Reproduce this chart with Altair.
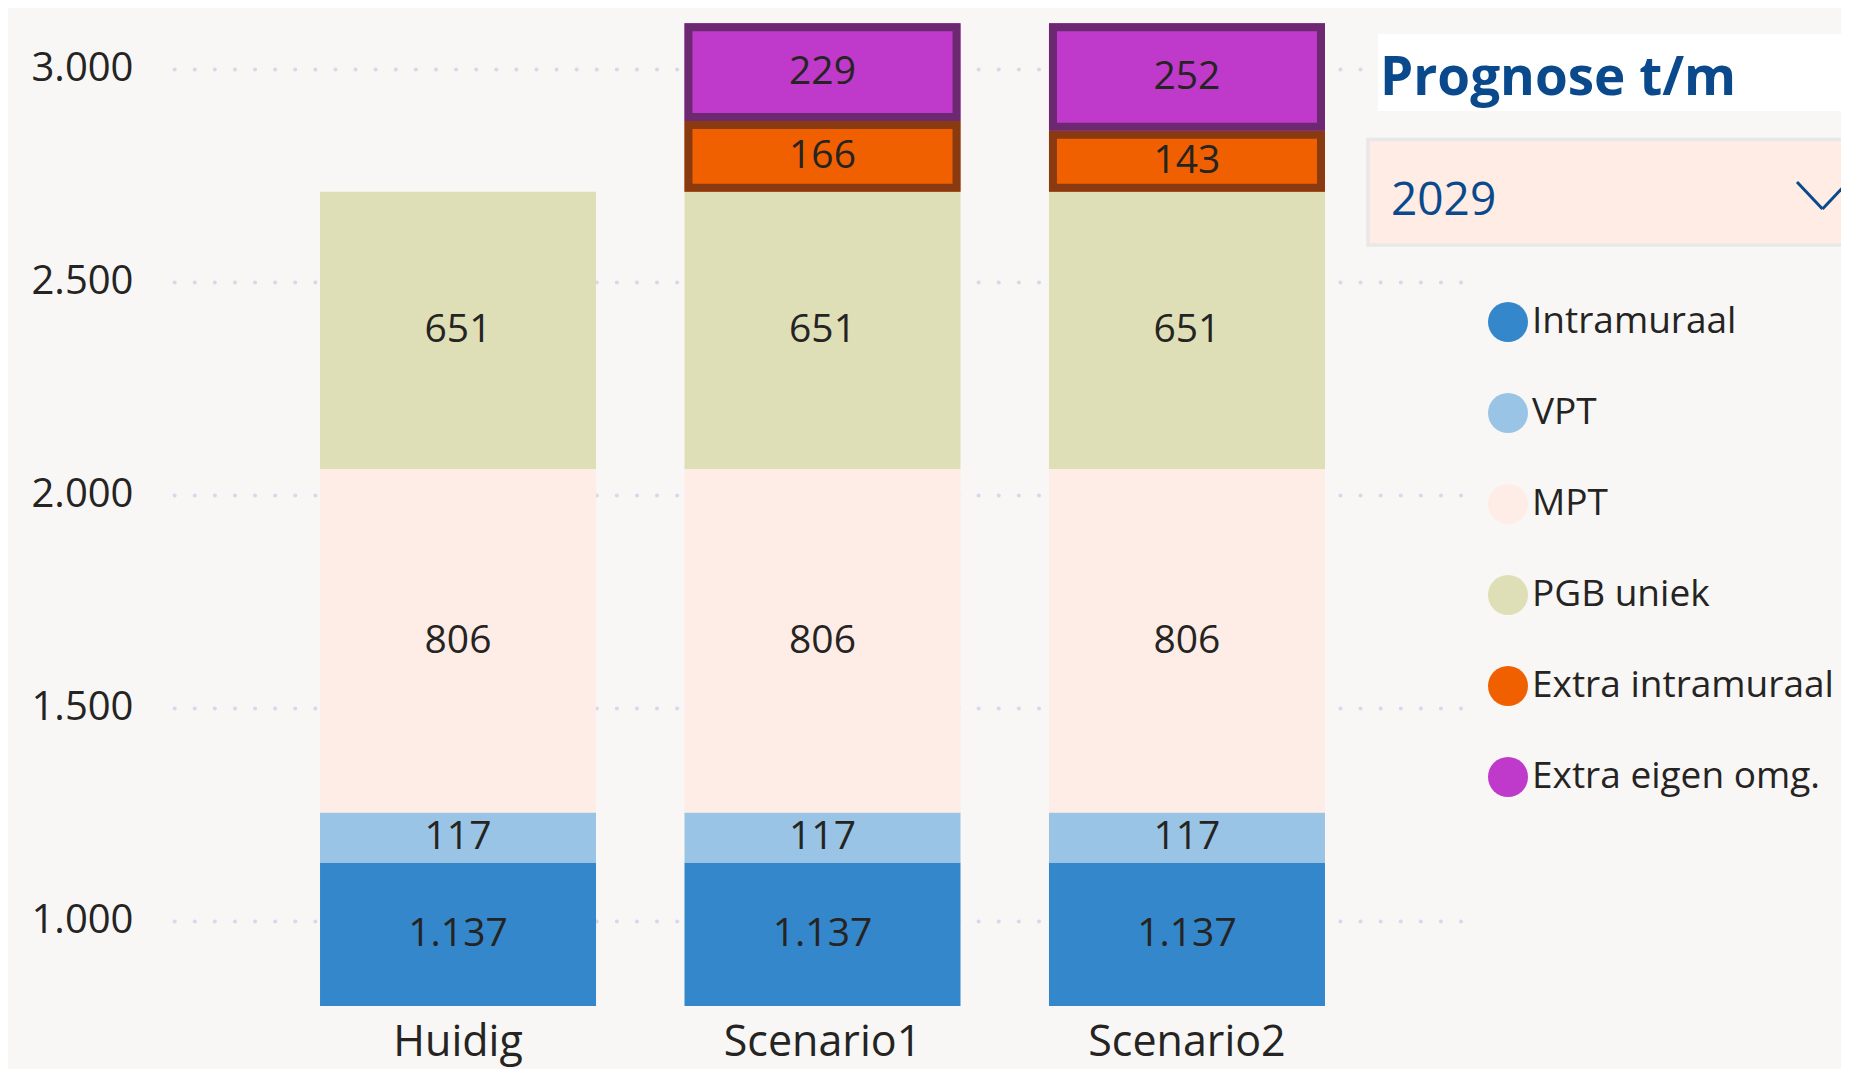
import altair as alt
import pandas as pd

# ---- data ----
categories = ["Huidig", "Scenario1", "Scenario2"]
series = ["Intramuraal", "VPT", "MPT", "PGB uniek", "Extra intramuraal", "Extra eigen omg."]
intramuraal = [1137, 1137, 1137]
vpt = [117, 117, 117]
mpt = [806, 806, 806]
pgb_uniek = [651, 651, 651]
extra_intramuraal = [0, 166, 143]
extra_eigen_omg = [0, 229, 252]
y_ticks = [1000, 1500, 2000, 2500, 3000]
selected_year = "2029"

fill_colors = ["#3487CA", "#9AC4E5", "#FEEDE6", "#DEDFB7", "#F06000", "#BF3ACA"]
border_colors = {"Extra intramuraal": "#8A3A10", "Extra eigen omg.": "#6C2972"}
Y_DOMAIN = [800, 3142]

values_by_series = [intramuraal, vpt, mpt, pgb_uniek, extra_intramuraal, extra_eigen_omg]

rows = []
for ci, cat in enumerate(categories):
    cum = 0
    for si, s in enumerate(series):
        v = values_by_series[si][ci]
        if v <= 0:
            continue
        start, end = cum, cum + v
        cum = end
        rows.append({
            "category": cat,
            "series": s,
            "value": v,
            "start": start,
            "end": end,
            "mid": (max(start, Y_DOMAIN[0]) + end) / 2,
            "label": f"{v:,}".replace(",", "."),
            "border": border_colors.get(s, "none"),
        })
df = pd.DataFrame(rows)
extras = df[df["series"].isin(list(border_colors.keys()))]

FONT = "Open Sans"
TEXT = "#252423"
BLUE = "#0A4A8C"

x_enc = alt.X(
    "category:N", sort=categories,
    scale=alt.Scale(paddingInner=0.245, paddingOuter=0.41),
    axis=alt.Axis(title=None, labelAngle=0, labelFontSize=43, labelColor=TEXT,
                  labelFont=FONT, labelPadding=15, domain=False, ticks=False,
                  labelLimit=1000),
)
y_scale = alt.Scale(domain=Y_DOMAIN, zero=False, nice=False)
y_axis = alt.Axis(values=y_ticks, title=None,
                  labelExpr="replace(format(datum.value, ','), ',', '.')",
                  grid=True, gridDash=[0.1, 20], gridDashOffset=17, gridCap="round",
                  gridWidth=4, gridColor="#D9D7EE", domain=False, ticks=False,
                  labelPadding=38, labelFontSize=40, labelColor=TEXT, labelFont=FONT)
y_enc = alt.Y("end:Q", stack=None, scale=y_scale, axis=y_axis)
y2_enc = alt.Y2("start:Q")

color_enc = alt.Color(
    "series:N",
    scale=alt.Scale(domain=series, range=fill_colors),
    legend=alt.Legend(title=None, orient="none", legendX=1317, legendY=294,
                      symbolType="circle", symbolSize=1600, symbolStrokeWidth=0,
                      labelFontSize=37, labelColor=TEXT, labelFont=FONT,
                      rowPadding=51, labelOffset=4, padding=0, labelLimit=1000),
)

bars = alt.Chart(df).mark_bar(width=276, clip=True).encode(
    x=x_enc, y=y_enc, y2=y2_enc, color=color_enc)

outer = alt.Chart(extras).mark_bar(width=276, clip=True).encode(
    x=x_enc, y=y_enc, y2=y2_enc, color=alt.Color("border:N", scale=None))

inner = alt.Chart(extras).mark_bar(width=260, yOffset=8, y2Offset=-8, clip=True).encode(
    x=x_enc, y=y_enc, y2=y2_enc, color=color_enc)

labels = alt.Chart(df).mark_text(font=FONT, fontSize=39, color=TEXT, baseline="middle").encode(
    x=x_enc, y=alt.Y("mid:Q", scale=y_scale, axis=y_axis), text="label:N")

one = pd.DataFrame({"k": [0]})

title_box = alt.Chart(one).mark_rect(color="#FFFFFF").encode(
    x=alt.value(1207), x2=alt.value(1700), y=alt.value(26), y2=alt.value(103))
title_text = alt.Chart(one).mark_text(
    text="Prognose t/m", font=FONT, fontSize=53, fontWeight="bold", color=BLUE,
    align="left", baseline="alphabetic").encode(x=alt.value(1209), y=alt.value(87))

dropdown = alt.Chart(one).mark_rect(color="#FFECE5", stroke="#E8E8E8", strokeWidth=3.5).encode(
    x=alt.value(1197), x2=alt.value(1720), y=alt.value(131.5), y2=alt.value(237))
dropdown_text = alt.Chart(one).mark_text(
    text=selected_year, font=FONT, fontSize=46, color=BLUE,
    align="left", baseline="alphabetic").encode(x=alt.value(1220), y=alt.value(207))
chev1 = alt.Chart(one).mark_rule(color=BLUE, strokeWidth=3).encode(
    x=alt.value(1626), y=alt.value(174), x2=alt.value(1651.5), y2=alt.value(201))
chev2 = alt.Chart(one).mark_rule(color=BLUE, strokeWidth=3).encode(
    x=alt.value(1651.5), y=alt.value(201), x2=alt.value(1677), y2=alt.value(174))

chart = alt.layer(
    bars, outer, inner, labels,
    title_box, title_text, dropdown, dropdown_text, chev1, chev2,
).properties(
    width=1303, height=998,
    autosize=alt.AutoSizeParams(type="none"),
    padding={"left": 163, "top": 0, "right": 367, "bottom": 63},
).configure(
    background="#F8F7F5", font=FONT,
).configure_view(stroke=None)

chart.save("out.html", embed_options={"renderer": "svg", "actions": False})
